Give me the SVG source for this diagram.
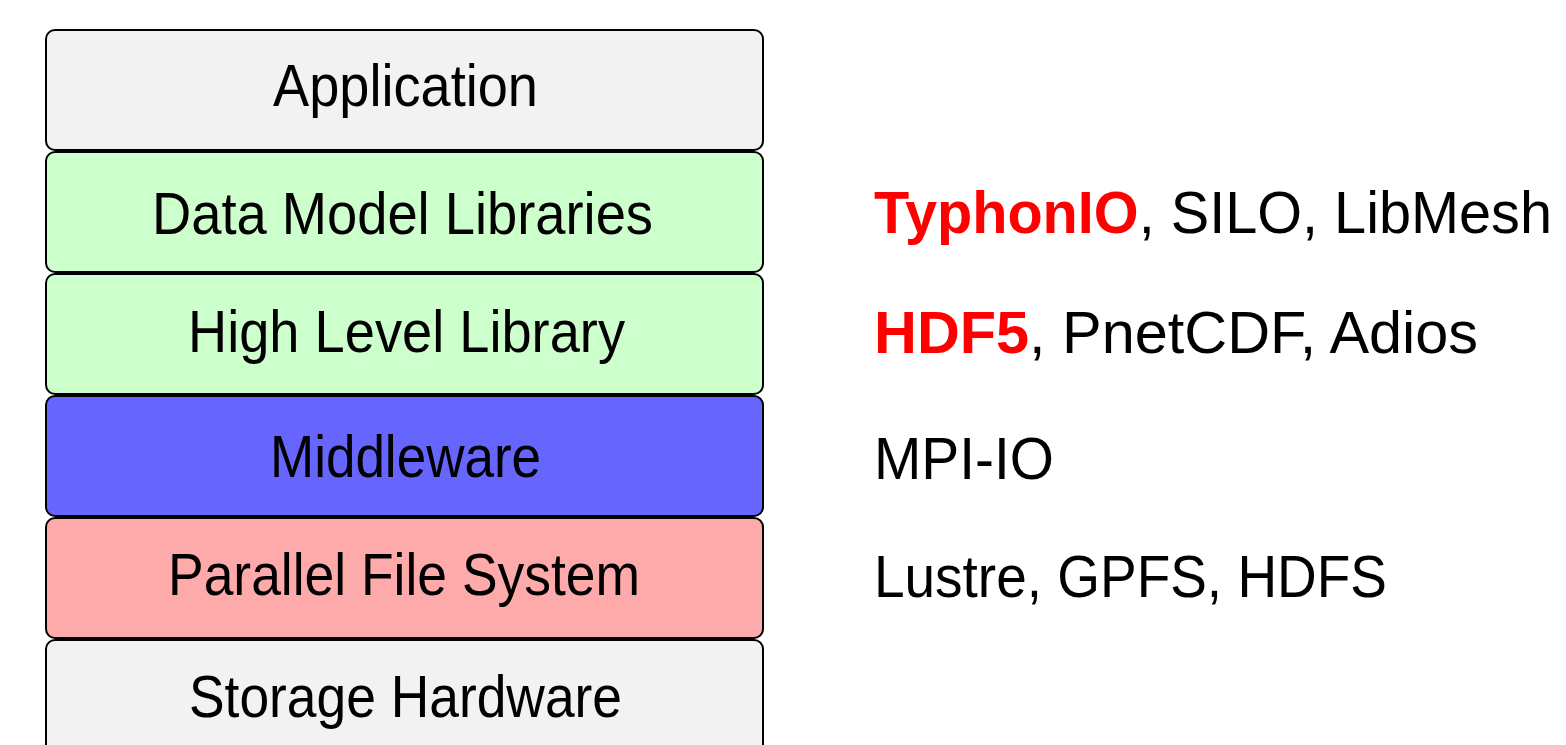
<svg xmlns="http://www.w3.org/2000/svg" width="1566" height="745" viewBox="0 0 1566 745">
<style>
.box{stroke:#000;stroke-width:2}
.lbl{font-family:"Liberation Sans",Arial,sans-serif;font-size:60px;fill:#000}
.c{text-anchor:middle}
.red{fill:#ff0000;font-weight:bold}
</style>
<rect width="1566" height="745" fill="#fff"/>
<g id="connectors"></g>
<g id="application">
<rect class="box" x="46" y="30" width="717" height="120" rx="9" fill="#f2f2f2"/>
<text class="lbl c" x="405.5" y="106" textLength="265" lengthAdjust="spacingAndGlyphs">Application</text>
</g>
<g id="data-model">
<rect class="box" x="46" y="152" width="717" height="120" rx="9" fill="#ccffcc"/>
<text class="lbl c" x="402.5" y="234" textLength="501" lengthAdjust="spacingAndGlyphs">Data Model Libraries</text>
</g>
<g id="high-level">
<rect class="box" x="46" y="274" width="717" height="120" rx="9" fill="#ccffcc"/>
<text class="lbl c" x="406.5" y="352" textLength="437" lengthAdjust="spacingAndGlyphs">High Level Library</text>
</g>
<g id="middleware">
<rect class="box" x="46" y="396" width="717" height="120" rx="9" fill="#6666ff"/>
<text class="lbl c" x="405.5" y="477" textLength="271" lengthAdjust="spacingAndGlyphs">Middleware</text>
</g>
<g id="pfs">
<rect class="box" x="46" y="518" width="717" height="120" rx="9" fill="#ffaaaa"/>
<text class="lbl c" x="404" y="595" textLength="472" lengthAdjust="spacingAndGlyphs">Parallel File System</text>
</g>
<g id="storage">
<rect class="box" x="46" y="640" width="717" height="120" rx="9" fill="#f2f2f2"/>
<text class="lbl c" x="405.5" y="717" textLength="433" lengthAdjust="spacingAndGlyphs">Storage Hardware</text>
</g>
<g id="ex-data-model">
<text class="lbl" x="874" y="233" textLength="678" lengthAdjust="spacingAndGlyphs"><tspan class="red">TyphonIO</tspan>, SILO, LibMesh</text>
</g>
<g id="ex-high-level">
<text class="lbl" x="874" y="353" textLength="604" lengthAdjust="spacingAndGlyphs"><tspan class="red">HDF5</tspan>, PnetCDF, Adios</text>
</g>
<g id="ex-middleware">
<text class="lbl" x="874" y="479" textLength="180" lengthAdjust="spacingAndGlyphs">MPI-IO</text>
</g>
<g id="ex-pfs">
<text class="lbl" x="874" y="597" textLength="513" lengthAdjust="spacingAndGlyphs">Lustre, GPFS, HDFS</text>
</g>
</svg>
